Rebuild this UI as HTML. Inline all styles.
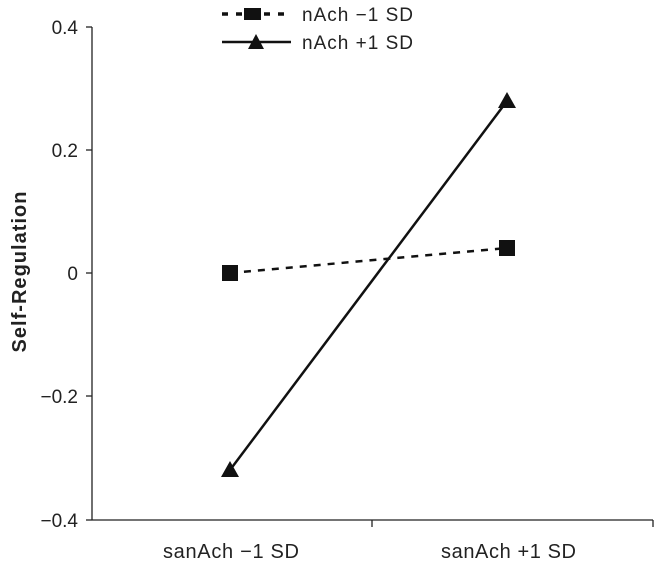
<!DOCTYPE html>
<html><head><style>body{margin:0;background:#fff}svg{display:block}text{font-family:"Liberation Sans",sans-serif;fill:#222}</style></head>
<body>
<svg width="661" height="564" viewBox="0 0 661 564">
<g stroke="#222" stroke-width="1.3" fill="none">
<line x1="92" y1="27" x2="92" y2="520"/>
<line x1="92" y1="520" x2="653" y2="520"/>
<line x1="86" y1="27" x2="92" y2="27"/>
<line x1="86" y1="150" x2="92" y2="150"/>
<line x1="86" y1="273" x2="92" y2="273"/>
<line x1="86" y1="396" x2="92" y2="396"/>
<line x1="86" y1="520" x2="92" y2="520"/>
<line x1="372" y1="520" x2="372" y2="527"/>
<line x1="653" y1="520" x2="653" y2="527"/>
</g>
<g font-size="19" text-anchor="end">
<text x="78" y="34">0.4</text>
<text x="78" y="157">0.2</text>
<text x="78" y="280">0</text>
<text x="78" y="403">−0.2</text>
<text x="78" y="527">−0.4</text>
</g>
<g font-size="20">
<text x="163" y="558" textLength="136">sanAch −1 SD</text>
<text x="441" y="558" textLength="135">sanAch +1 SD</text>
</g>
<text transform="translate(26,272) rotate(-90)" font-size="20" font-weight="bold" text-anchor="middle" textLength="161">Self-Regulation</text>
<line x1="230" y1="273" x2="507" y2="248" stroke="#111" stroke-width="2.5" stroke-dasharray="7,7"/>
<line x1="230" y1="470" x2="507" y2="101" stroke="#111" stroke-width="2.5"/>
<rect x="222" y="265" width="16" height="16" fill="#111"/>
<rect x="499" y="240" width="16" height="16" fill="#111"/>
<polygon points="230,461 239,477 221,477" fill="#111"/>
<polygon points="507,92 516,108 498,108" fill="#111"/>
<line x1="222" y1="14" x2="284" y2="14" stroke="#111" stroke-width="3.5" stroke-dasharray="6,8"/>
<rect x="244" y="8" width="17" height="12" fill="#111"/>
<line x1="222" y1="42" x2="291" y2="42" stroke="#111" stroke-width="2.5"/>
<polygon points="256,34 264,49 248,49" fill="#111"/>
<g font-size="19"><text x="302" y="21" textLength="111">nAch −1 SD</text><text x="302" y="49" textLength="111">nAch +1 SD</text></g>
</svg>
</body></html>
